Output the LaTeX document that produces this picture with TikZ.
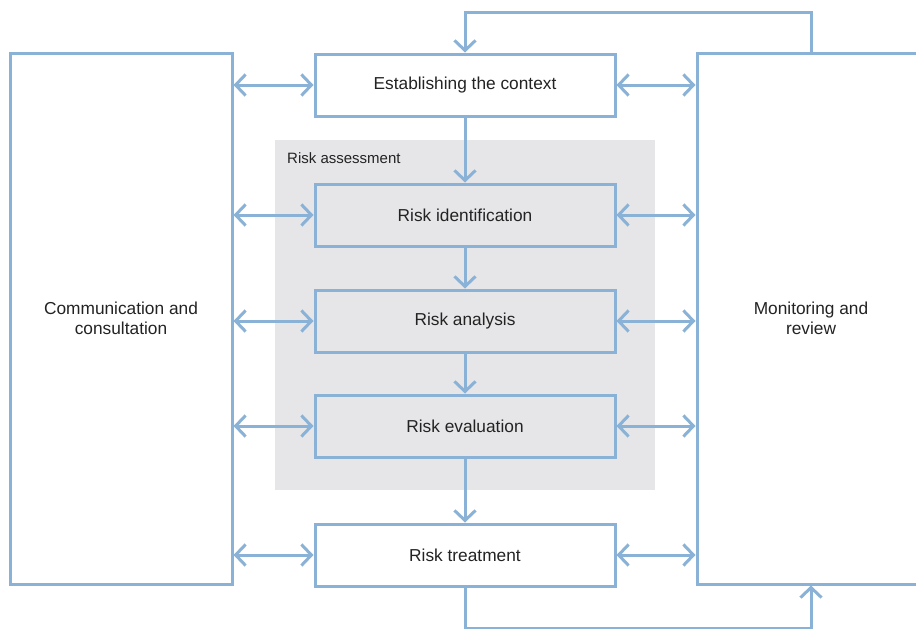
\documentclass[tikz,border=0pt]{standalone}
\usepackage{fontspec}
\setmainfont{Liberation Sans}
\usetikzlibrary{arrows.meta}
\definecolor{edge}{RGB}{137,178,214}
\definecolor{panel}{RGB}{230,230,232}
\definecolor{ink}{RGB}{35,35,35}
\tikzset{
  box/.style={draw=edge, line width=3pt, fill=white, minimum width=300pt,
    minimum height=62pt, inner sep=0pt, text=ink,
    font=\fontsize{17.3}{20.5}\selectfont, align=center},
  assessbox/.style={box, fill=panel},
  sidebox/.style={box, minimum width=222pt, minimum height=531pt},
  flow/.style={draw=edge, line width=3pt,
    -{Straight Barb[length=10pt,width=21pt,line width=3pt]}},
  link/.style={draw=edge, line width=3pt,
    {Straight Barb[length=10pt,width=21pt,line width=3pt]}-{Straight Barb[length=10pt,width=21pt,line width=3pt]}},
}
\begin{document}
\begin{tikzpicture}[x=1pt, y=-1pt]
\clip (0,0) rectangle (916,629);
\fill[white] (0,0) rectangle (916,629);

% risk assessment panel
\fill[panel] (275,140) rectangle (655,490);
\node[anchor=west, text=ink, font=\fontsize{15}{18}\selectfont, inner sep=0pt] (panellabel) at (287,158) {Risk assessment};

% side boxes
\node[sidebox] (comm) at (121,318.5) {Communication and\\consultation};
\node[sidebox, minimum width=228pt] (mon) at (811,318.5) {Monitoring and\\review};

% process steps
\node[box] (ctx) at (465,85) {Establishing the context};
\node[assessbox] (ident) at (465,215) {Risk identification};
\node[assessbox] (anal) at (465,321) {Risk analysis};
\node[assessbox] (eval) at (465,426) {Risk evaluation};
\node[box] (treat) at (465,555) {Risk treatment};

% main flow
\draw[flow] (ctx) -- (ident);
\draw[flow] (ident) -- (anal);
\draw[flow] (anal) -- (eval);
\draw[flow] (eval) -- (treat);

% feedback loops
\coordinate (fbtop) at (0,12);
\coordinate (fbbot) at (0,628);
\draw[flow] (mon.north) -- (mon.north |- fbtop) -| (ctx.north);
\draw[flow] (treat.south) -- (treat.south |- fbbot) -| (mon.south);

% communication and monitoring links
\foreach \n in {ctx,ident,anal,eval,treat}{
  \draw[link] (comm.east |- \n) -- (\n.west);
  \draw[link] (\n.east) -- (mon.west |- \n);
}
\end{tikzpicture}
\end{document}
